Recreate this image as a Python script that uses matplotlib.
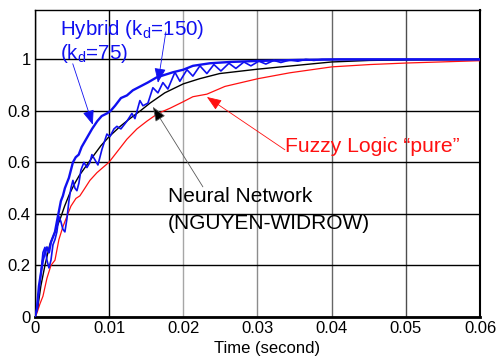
import matplotlib
matplotlib.use("Agg")
import matplotlib.pyplot as plt

plt.rcParams['font.family'] = ['Liberation Sans', 'DejaVu Sans']
plt.rcParams['mathtext.fontset'] = 'custom'
plt.rcParams['mathtext.rm'] = 'Liberation Sans'
plt.rcParams['mathtext.it'] = 'Liberation Sans'

# ---------------- data ----------------
t_hyb150 = [0, 0.00027, 0.00054, 0.00081, 0.00108, 0.00135, 0.00162, 0.00189, 0.00216, 0.00243,
            0.0027, 0.00296, 0.00323, 0.0035, 0.00377, 0.00404, 0.00431, 0.00458, 0.00485, 0.00512,
            0.0055, 0.0059, 0.0063, 0.0067, 0.0071, 0.0077, 0.0084, 0.0090, 0.0097, 0.0102,
            0.0108, 0.0116, 0.0124, 0.0132, 0.0142, 0.0152, 0.0164, 0.0175, 0.0186, 0.0200,
            0.0213, 0.0236, 0.0263, 0.0300, 0.0357, 0.0411, 0.0500, 0.0600]
y_hyb150 = [0, 0.03, 0.12, 0.17, 0.22, 0.25, 0.27, 0.25, 0.29, 0.31,
            0.33, 0.37, 0.41, 0.45, 0.47, 0.50, 0.52, 0.54, 0.57, 0.60,
            0.62, 0.63, 0.66, 0.68, 0.70, 0.73, 0.76, 0.78, 0.79, 0.80,
            0.82, 0.85, 0.86, 0.88, 0.895, 0.91, 0.93, 0.94, 0.95, 0.96,
            0.975, 0.985, 0.99, 0.994, 0.998, 1.0, 1.0, 1.0]

t_hyb75 = [0, 0.00027, 0.00054, 0.00081, 0.00108, 0.00135, 0.00162, 0.00189, 0.00216, 0.00243,
           0.0027, 0.00296, 0.00323, 0.0035, 0.00377, 0.00404, 0.00431, 0.00458, 0.00485, 0.00512,
           0.00539, 0.00566, 0.00593, 0.0062, 0.0066, 0.00701, 0.00741, 0.00768, 0.00809, 0.00849,
           0.00903, 0.0097, 0.01011, 0.01065, 0.01105, 0.01159, 0.0124, 0.01307, 0.01348, 0.01415,
           0.01456, 0.01523, 0.0159, 0.01658, 0.01725, 0.01792, 0.01887, 0.01954, 0.02049, 0.02129,
           0.02224, 0.02318, 0.02412, 0.02507, 0.02615, 0.02709, 0.02817, 0.02911, 0.03019, 0.03113,
           0.03221, 0.03315, 0.03437, 0.03544, 0.03652, 0.0376, 0.03868, 0.0411, 0.0600]
y_hyb75 = [0, 0.03, 0.10, 0.17, 0.25, 0.27, 0.22, 0.19, 0.22, 0.28,
           0.30, 0.33, 0.39, 0.37, 0.34, 0.33, 0.38, 0.45, 0.50, 0.53,
           0.50, 0.49, 0.52, 0.57, 0.60, 0.58, 0.60, 0.63, 0.61, 0.59,
           0.65, 0.71, 0.70, 0.73, 0.74, 0.73, 0.76, 0.79, 0.77, 0.84,
           0.82, 0.83, 0.89, 0.87, 0.91, 0.885, 0.95, 0.915, 0.96, 0.935,
           0.975, 0.945, 0.98, 0.955, 0.985, 0.965, 0.99, 0.975, 0.993, 0.982,
           0.996, 0.988, 0.998, 0.993, 1.0, 0.996, 1.0, 1.0, 1.0]

t_neural = [0, 0.0004, 0.0008, 0.00135, 0.002, 0.0027, 0.0034, 0.004, 0.0047, 0.0054,
            0.006, 0.007, 0.008, 0.0089, 0.01, 0.0115, 0.0128, 0.0142, 0.0155, 0.0175,
            0.02, 0.0222, 0.0249, 0.03, 0.0357, 0.04, 0.0451, 0.05, 0.06]
y_neural = [0, 0.04, 0.12, 0.20, 0.28, 0.33, 0.38, 0.43, 0.48, 0.52,
            0.55, 0.59, 0.63, 0.665, 0.70, 0.74, 0.77, 0.80, 0.83, 0.87,
            0.905, 0.925, 0.945, 0.962, 0.978, 0.99, 0.996, 0.998, 1.0]

t_fuzzy = [0, 0.00027, 0.00067, 0.00108, 0.00162, 0.00216, 0.0027, 0.00323, 0.00377, 0.00431,
           0.00485, 0.00553, 0.00606, 0.00674, 0.00741, 0.00836, 0.00916, 0.00997, 0.01105, 0.0124,
           0.01375, 0.01509, 0.01658, 0.01819, 0.01995, 0.02129, 0.02318, 0.02561, 0.03005, 0.03437,
           0.04003, 0.04515, 0.05013, 0.05458, 0.06]
y_fuzzy = [0, 0.015, 0.05, 0.08, 0.15, 0.20, 0.22, 0.30, 0.35, 0.39,
           0.43, 0.46, 0.47, 0.50, 0.53, 0.56, 0.58, 0.60, 0.64, 0.69,
           0.73, 0.76, 0.79, 0.81, 0.835, 0.855, 0.865, 0.895, 0.925, 0.948,
           0.971, 0.98, 0.986, 0.99, 0.995]

x_ticks = [0, 0.01, 0.02, 0.03, 0.04, 0.05, 0.06]
x_tick_labels = ['0', '0.01', '0.02', '0.03', '0.04', '0.05', '0.06']
y_ticks = [0, 0.2, 0.4, 0.6, 0.8, 1.0]
y_tick_labels = ['0', '0.2', '0.4', '0.6', '0.8', '1']

# ---------------- figure ----------------
fig = plt.figure(figsize=(4.99, 3.56), dpi=100)
ax = fig.add_axes([0.070, 0.110, 0.892, 0.862])
ax.set_xlim(0, 0.06)
ax.set_ylim(0, 1.192)

vcolors = ['black', 'black', '0.65', '0.55', '0.4', '0.3', 'black']
for xv, c in zip(x_ticks, vcolors):
    ax.axvline(xv, color=c, lw=1.0, zorder=1)
for yv in y_ticks:
    ax.axhline(yv, color='black', lw=1.0, zorder=1)

ax.plot(t_fuzzy, y_fuzzy, color='#ff1010', lw=0.9, zorder=3)
ax.plot(t_neural, y_neural, color='black', lw=1.0, zorder=3)
ax.plot(t_hyb75, y_hyb75, color='#1010f0', lw=1.2, zorder=4)
ax.plot(t_hyb150, y_hyb150, color='#1010f0', lw=1.7, zorder=5)

ax.set_xticks(x_ticks)
ax.set_xticklabels(x_tick_labels)
ax.set_yticks(y_ticks)
ax.set_yticklabels(y_tick_labels)
ax.tick_params(length=0, labelsize=12, pad=3)
for s in ['top', 'left']:
    ax.spines[s].set_linewidth(1.0)
ax.spines['bottom'].set_linewidth(2.0)
ax.spines['right'].set_linewidth(1.5)

fig.text(267 / 499, 1 - 348 / 356, 'Time (second)', ha='center', va='center', fontsize=12)

blue = '#1010f0'
ax.text(0.0034, 1.095, 'Hybrid (k$_d$=150)', color=blue, fontsize=14.8, va='baseline')
ax.text(0.0034, 1.0, '(k$_d$=75)', color=blue, fontsize=14.8, va='baseline')

ax.annotate('', xy=(0.0078, 0.746), xytext=(0.0051, 0.983),
            arrowprops=dict(arrowstyle='-|>,head_length=0.9,head_width=0.35', color=blue,
                            lw=0.6, shrinkA=0, shrinkB=0), zorder=6)
ax.annotate('', xy=(0.01658, 0.909), xytext=(0.01765, 1.107),
            arrowprops=dict(arrowstyle='-|>,head_length=0.9,head_width=0.35', color=blue,
                            lw=0.6, shrinkA=0, shrinkB=0), zorder=6)
ax.annotate('', xy=(0.0159, 0.816), xytext=(0.02264, 0.505),
            arrowprops=dict(arrowstyle='-|>,head_length=0.9,head_width=0.35', fc='black',
                            ec='0.35', lw=0.6, shrinkA=0, shrinkB=0), zorder=6)
ax.annotate('', xy=(0.02318, 0.854), xytext=(0.03369, 0.649),
            arrowprops=dict(arrowstyle='-|>,head_length=0.9,head_width=0.35', color='#ff1010',
                            lw=0.6, shrinkA=0, shrinkB=0), zorder=6)

ax.text(0.0337, 0.66, 'Fuzzy Logic \u201cpure\u201d', color='#ff1010', fontsize=15.2, va='center')
ax.text(0.0179, 0.466, 'Neural Network', color='black', fontsize=15, va='center')
ax.text(0.0179, 0.361, '(NGUYEN-WIDROW)', color='black', fontsize=15, va='center')

fig.savefig('out.png', dpi=100)
